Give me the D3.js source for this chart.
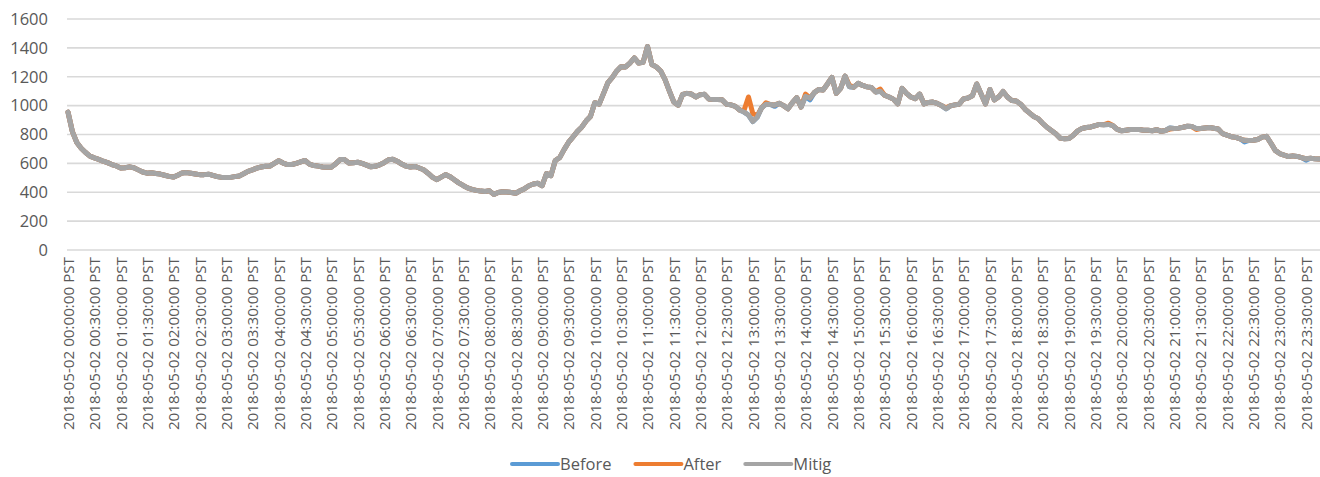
<!DOCTYPE html>
<html>
<head>
<meta charset="utf-8">
<script src="https://cdn.jsdelivr.net/npm/d3@7"></script>
<style>
  html, body { margin: 0; padding: 0; background: #fff; }
  svg text { font-family: "Open Sans", "Liberation Sans", sans-serif; fill: #595959; }
</style>
</head>
<body>
<svg id="chart" width="1320" height="477"></svg>
<script>
'use strict';
// 5-minute samples, 2018-05-02 00:00 .. 23:55 PST
const mitig = [
  955, 820, 745, 705, 675, 650, 638, 628, 615, 605,
  592, 582, 568, 570, 576, 570, 555, 540, 532, 535,
  530, 526, 518, 510, 505, 518, 534, 536, 532, 527,
  522, 522, 525, 517, 508, 503, 503, 503, 508, 513,
  528, 545, 555, 567, 575, 580, 582, 600, 618, 602,
  592, 592, 600, 610, 620, 595, 585, 581, 575, 574,
  574, 598, 626, 626, 602, 605, 608, 600, 588, 576,
  580, 590, 605, 625, 628, 615, 595, 581, 575, 579,
  568, 556, 532, 505, 487, 505, 522, 508, 487, 465,
  447, 430, 420, 413, 408, 405, 410, 385, 398, 404,
  402, 398, 393, 410, 425, 445, 457, 462, 445, 530,
  515, 620, 640, 695, 745, 782, 820, 850, 893, 925,
  1020, 1010, 1085, 1160, 1195, 1240, 1270, 1268, 1295, 1330,
  1295, 1300, 1410, 1285, 1268, 1240, 1180, 1100, 1025, 1002,
  1078, 1085, 1080, 1060, 1076, 1078, 1045, 1042, 1042, 1040,
  1010, 1005, 995, 970, 955, 935, 890, 920, 985, 1010,
  1008, 1005, 1016, 1000, 978, 1020, 1055, 990, 1065, 1053,
  1090, 1112, 1108, 1150, 1196, 1085, 1120, 1205, 1130, 1128,
  1155, 1140, 1130, 1125, 1095, 1100, 1072, 1060, 1045, 1012,
  1120, 1085, 1060, 1048, 1080, 1012, 1022, 1025, 1015, 1000,
  978, 998, 1005, 1010, 1046, 1053, 1068, 1150, 1080, 1012,
  1112, 1040, 1060, 1098, 1060, 1035, 1032, 1010, 975, 950,
  925, 910, 878, 850, 828, 805, 775, 770, 772, 795,
  825, 842, 848, 852, 862, 870, 868, 870, 862, 835,
  826, 830, 834, 834, 834, 830, 829, 826, 834, 822,
  828, 845, 842, 844, 850, 857, 855, 842, 841, 845,
  848, 843, 838, 806, 795, 785, 780, 770, 760, 759,
  760, 765, 782, 787, 740, 690, 668, 658, 647, 652,
  648, 640, 632, 635, 632, 630, 628, 630
];
// points where Before / After differ from Mitig: [sample index, value]
const beforeDiff = [[161, 995], [169, 1040], [268, 748], [282, 622]];
const afterDiff = [[154, 968], [155, 1060], [156, 945], [157, 930], [159, 1020],
  [168, 1080], [178, 1140], [185, 1115], [200, 985], [237, 878], [251, 838], [257, 835]];

const yTicks = [0, 200, 400, 600, 800, 1000, 1200, 1400, 1600];
const seriesNames = ["Before", "After", "Mitig"];
const seriesColors = ["#5B9BD5", "#ED7D31", "#A5A5A5"];

function withDiff(base, diff) {
  let out = base.slice();
  diff.forEach(function (d) { out[d[0]] = d[1]; });
  return out;
}
const before = withDiff(mitig, beforeDiff);
const after = withDiff(mitig, afterDiff);
const seriesValues = [before, after, mitig];

// category labels
const fmt = d3.timeFormat("%Y-%m-%d %H:%M:%S");
const startDate = new Date(2018, 4, 2, 0, 0, 0);
const categories = mitig.map(function (v, i) {
  return fmt(d3.timeMinute.offset(startDate, i * 5)) + " PST";
});

const svg = d3.select("#chart");
const plotLeft = 68, step = 4.39;
const plotTop = 19, plotBottom = 250;

const x = d3.scalePoint()
  .domain(categories)
  .range([plotLeft, plotLeft + step * (categories.length - 1)]);
const y = d3.scaleLinear().domain([0, 1600]).range([plotBottom, plotTop]);

// gridlines
svg.append("g")
  .selectAll("line")
  .data(yTicks)
  .join("line")
  .attr("x1", plotLeft - 1)
  .attr("x2", 1330)
  .attr("y1", function (d) { return y(d); })
  .attr("y2", function (d) { return y(d); })
  .attr("stroke", "#D9D9D9")
  .attr("stroke-width", 1.6);

// y axis labels
let yAxis = d3.axisLeft(y).tickValues(yTicks).tickFormat(d3.format("d"))
  .tickSize(0).tickPadding(0);
let yg = svg.append("g")
  .attr("transform", "translate(" + 48 + ",0)")
  .call(yAxis);
yg.select(".domain").remove();
yg.selectAll("text")
  .attr("font-size", 16.5)
  .style("font-family", "'Open Sans', sans-serif")
  .attr("fill", "#595959");

// x axis labels, every 30 minutes
let xAxis = d3.axisBottom(x)
  .tickValues(categories.filter(function (c, i) { return i % 6 === 0; }))
  .tickSize(0);
let xg = svg.append("g")
  .attr("transform", "translate(0," + plotBottom + ")")
  .call(xAxis);
xg.select(".domain").remove();
xg.selectAll("text")
  .attr("font-size", 15.2)
  .style("font-family", "'Open Sans', sans-serif")
  .attr("fill", "#595959")
  .attr("text-anchor", "end")
  .attr("transform", "rotate(-90)")
  .attr("x", -7)
  .attr("y", 0)
  .attr("dy", "0.35em");

// lines
const line = d3.line()
  .x(function (d, i) { return x(categories[i]); })
  .y(function (d) { return y(d); });

svg.append("g")
  .selectAll("path")
  .data(seriesValues)
  .join("path")
  .attr("d", line)
  .attr("fill", "none")
  .attr("stroke", function (d, i) { return seriesColors[i]; })
  .attr("stroke-width", 5)
  .attr("stroke-linejoin", "round")
  .attr("stroke-linecap", "round");

// legend
let legend = svg.append("g");
let lx = 512;
seriesNames.forEach(function (name, i) {
  legend.append("line")
    .attr("x1", lx).attr("x2", lx + 46)
    .attr("y1", 464).attr("y2", 464)
    .attr("stroke", seriesColors[i])
    .attr("stroke-width", 4)
    .attr("stroke-linecap", "round");
  let t = legend.append("text")
    .attr("x", lx + 48)
    .attr("y", 464)
    .attr("dy", "0.35em")
    .attr("font-size", 16.5)
    .text(name);
  lx += 48 + t.node().getComputedTextLength() + 24;
});
</script>
</body>
</html>
